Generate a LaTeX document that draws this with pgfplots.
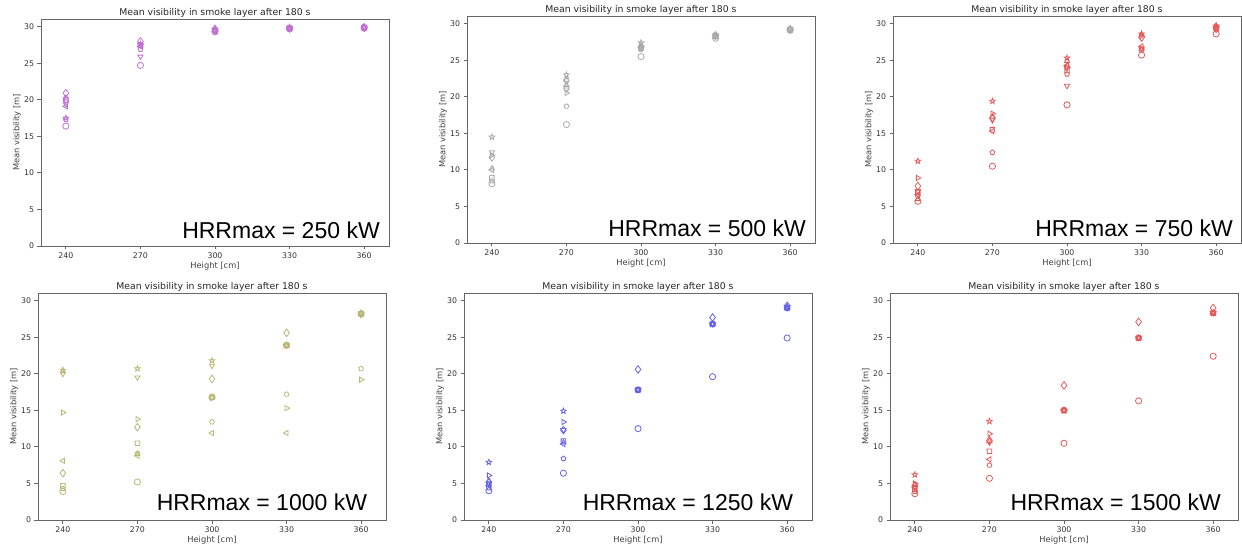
\documentclass[border=0pt]{standalone}
\usepackage{fontspec}
\setmainfont{DejaVu Sans}
\newfontfamily\arialfont{Liberation Sans}
\usepackage{pgfplots}
\usepackage{pgfplotstable}
\pgfplotsset{compat=1.18}

\definecolor{cpurple}{RGB}{190,115,210}
\definecolor{cgray}{RGB}{170,170,170}
\definecolor{cred}{RGB}{228,90,90}
\definecolor{colive}{RGB}{185,182,118}
\definecolor{cblue}{RGB}{100,100,230}

% outlined five-point star
\pgfdeclareplotmark{ostar}{%
  \pgfpathmoveto{\pgfpointpolar{90}{\pgfplotmarksize}}%
  \pgfpathlineto{\pgfpointpolar{126}{0.42\pgfplotmarksize}}%
  \pgfpathlineto{\pgfpointpolar{162}{\pgfplotmarksize}}%
  \pgfpathlineto{\pgfpointpolar{198}{0.42\pgfplotmarksize}}%
  \pgfpathlineto{\pgfpointpolar{234}{\pgfplotmarksize}}%
  \pgfpathlineto{\pgfpointpolar{270}{0.42\pgfplotmarksize}}%
  \pgfpathlineto{\pgfpointpolar{306}{\pgfplotmarksize}}%
  \pgfpathlineto{\pgfpointpolar{342}{0.42\pgfplotmarksize}}%
  \pgfpathlineto{\pgfpointpolar{18}{\pgfplotmarksize}}%
  \pgfpathlineto{\pgfpointpolar{54}{0.42\pgfplotmarksize}}%
  \pgfpathclose\pgfusepathqstroke}

% outlined square, drawn through polar points like the star
\pgfdeclareplotmark{osq}{%
  \pgfpathmoveto{\pgfpointpolar{45}{1.41\pgfplotmarksize}}%
  \pgfpathlineto{\pgfpointpolar{135}{1.41\pgfplotmarksize}}%
  \pgfpathlineto{\pgfpointpolar{225}{1.41\pgfplotmarksize}}%
  \pgfpathlineto{\pgfpointpolar{315}{1.41\pgfplotmarksize}}%
  \pgfpathclose\pgfusepathqstroke}

% columns: o circle, p pentagon, v/u/l/r triangles, s square, d diamond, st star
\pgfplotstableread{
h   o    p    v    u    l    r    s    d    st
240 16.4 17.3 19.4 20.3 19.1 19.8 20.0 20.9 17.5
270 24.7 26.9 25.9 27.4 27.3 27.5 27.5 28.0 27.6
300 29.3 29.4 29.4 29.6 29.4 29.5 29.5 29.7 29.6
330 29.7 29.7 29.7 29.8 29.7 29.8 29.8 29.8 29.9
360 29.8 29.8 29.8 29.9 29.8 29.9 29.9 29.9 29.95
}\tabA
\pgfplotstableread{
h   o    p    v    u    l    r    s    d    st
240 8.1  8.5  12.4 10.2 10.0 12.0 8.9  11.7 14.5
270 16.2 18.7 21.0 21.6 22.3 20.5 21.2 22.2 23.0
300 25.5 26.5 26.8 27.0 26.7 26.9 26.6 26.7 27.4
330 28.0 28.2 28.3 28.5 28.3 28.4 28.3 28.4 28.5
360 29.1 29.2 29.1 29.3 29.2 29.2 29.2 29.2 29.3
}\tabB
\pgfplotstableread{
h   o    p    v    u    l    r    s    d    st
240 5.7  6.4  7.1  6.0  6.6  8.9  6.9  7.8  11.2
270 10.5 12.4 16.8 17.3 15.3 17.7 15.5 17.1 19.4
300 18.9 23.1 21.5 24.9 24.3 24.0 23.6 24.1 25.3
330 25.7 26.4 26.6 28.5 26.9 28.3 26.6 28.1 28.6
360 28.6 29.3 29.5 29.7 29.5 29.6 29.4 29.3 29.7
}\tabC
\pgfplotstableread{
h   o    p    v    u    l    r    s    d    st
240 3.9  4.3  20.0 20.3 8.1  14.7 4.7  6.4  20.5
270 5.2  9.1  19.5 9.0  8.8  13.8 10.5 12.7 20.7
300 16.8 13.4 21.1 16.8 11.9 16.7 16.8 19.3 21.8
330 23.9 17.2 23.9 23.8 11.9 15.3 23.9 25.6 23.9
360 28.2 20.7 28.1 28.2 28.2 19.2 28.2 28.2 28.3
}\tabD
\pgfplotstableread{
h   o    p    v    u    l    r    s    d    st
240 4.0  4.4  5.0  5.3  4.7  6.1  4.9  5.2  7.9
270 6.4  8.4  12.3 10.6 10.4 13.4 10.8 12.3 14.9
300 12.5 17.8 17.8 17.8 17.8 17.8 17.8 20.6 17.8
330 19.6 26.8 26.8 26.8 26.8 26.8 26.8 27.7 26.8
360 24.9 29.0 29.0 29.0 29.0 29.0 29.0 29.3 29.2
}\tabE
\pgfplotstableread{
h   o    p    v    u    l    r    s    d    st
240 3.6  3.9  4.5  4.8  4.4  5.0  4.2  4.7  6.2
270 5.7  7.5  10.6 10.8 8.3  11.8 9.4  10.9 13.5
300 10.5 15.0 15.0 15.0 15.0 15.0 15.0 18.4 15.0
330 16.3 24.9 24.9 24.9 24.9 24.9 24.9 27.1 24.9
360 22.4 28.3 28.3 28.3 28.3 28.3 28.3 29.0 28.4
}\tabF

\pgfplotsset{
  panel/.style={
    width=348pt, height=227pt, scale only axis,
    xmin=230, xmax=370, ymin=0, ymax=31.05,
    xtick={240,270,300,330,360}, ytick={0,5,...,30},
    tick align=outside, tick pos=left, major tick length=3.5pt,
    axis line style={black!60, line width=0.9pt},
    major tick style={black!60, line width=0.8pt},
    tick label style={font=\fontsize{7.8}{9}\selectfont, text=black!80},
    /pgf/number format/assume math mode=true,
    title={Mean visibility in smoke layer after 180 s},
    title style={font=\fontsize{9.3}{11}\selectfont, text=black!85, at={(0.5,1)}, anchor=base, yshift=-2.5pt},
    xlabel={Height [cm]}, ylabel={Mean visibility [m]},
    xlabel style={font=\fontsize{8.3}{9}\selectfont, text=black!75, at={([yshift=-22.5pt]axis description cs:0.5,0)}, anchor=base},
    ylabel style={font=\fontsize{8.3}{9}\selectfont, text=black!75, at={([xshift=-24pt]axis description cs:0,0.5)}, anchor=center},
  },
}

\newcommand{\mk}[5]{% table, colour, column, mark, mark options
  \addplot[only marks, color=#2, mark=#4, mark options={color=#2, fill=none, line width=0.8pt, #5}] table[x=h,y=#3]{#1};
}
\newcommand{\allseries}[2]{%
  \mk{#1}{#2}{o}{o}{mark size=3.1pt}
  \mk{#1}{#2}{p}{pentagon}{mark size=2.5pt}
  \mk{#1}{#2}{v}{triangle}{mark size=3pt, rotate=180}
  \mk{#1}{#2}{u}{triangle}{mark size=3pt}
  \mk{#1}{#2}{l}{triangle}{mark size=3pt, rotate=90}
  \mk{#1}{#2}{r}{triangle}{mark size=3pt, rotate=-90}
  \mk{#1}{#2}{s}{osq}{mark size=2.3pt, rotate=1}
  \mk{#1}{#2}{d}{diamond}{mark size=3.8pt}
  \mk{#1}{#2}{st}{ostar}{mark size=2.9pt}
}

\newcommand{\hrr}[3]{%
  \node[anchor=base east, inner sep=0pt, font=\arialfont\fontsize{23}{26}\selectfont] at (rel axis cs:#1,#2) {HRRmax = #3 kW};
}

\begin{document}
\begin{tikzpicture}[x=1pt, y=1pt]
\useasboundingbox (0,0) rectangle (1242,546);

\begin{axis}[panel, at={(41pt,300pt)}, anchor=south west]
  \allseries{\tabA}{cpurple}
  \hrr{0.974}{0.035}{250}
\end{axis}

\begin{axis}[panel, at={(467pt,303pt)}, anchor=south west]
  \allseries{\tabB}{cgray}
  \hrr{0.974}{0.027}{500}
\end{axis}

\begin{axis}[panel, at={(893pt,303pt)}, anchor=south west]
  \allseries{\tabC}{cred}
  \hrr{0.977}{0.027}{750}
\end{axis}

\begin{axis}[panel, at={(38pt,26pt)}, anchor=south west]
  \allseries{\tabD}{colive}
  \hrr{0.946}{0.044}{1000}
\end{axis}

\begin{axis}[panel, at={(464pt,26pt)}, anchor=south west]
  \allseries{\tabE}{cblue}
  \hrr{0.946}{0.044}{1250}
\end{axis}

\begin{axis}[panel, at={(890pt,26pt)}, anchor=south west]
  \allseries{\tabF}{cred}
  \hrr{0.951}{0.044}{1500}
\end{axis}

\end{tikzpicture}
\end{document}
